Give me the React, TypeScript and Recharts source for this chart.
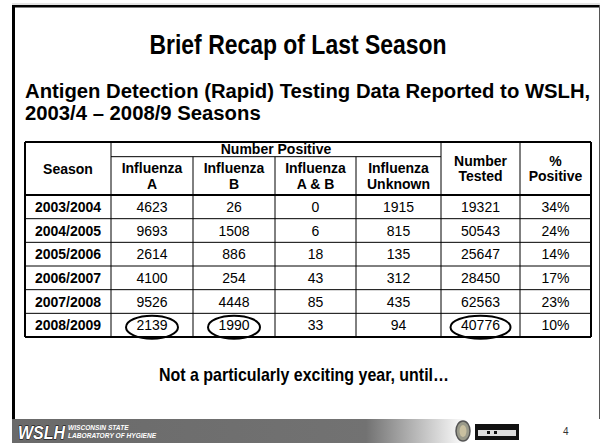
import React from "react";
import { ScatterChart, Scatter, XAxis, YAxis, ReferenceLine } from "recharts";

// table data (WSLH rapid antigen testing, 2003/4 - 2008/9)
const seasons = ["2003/2004", "2004/2005", "2005/2006", "2006/2007", "2007/2008", "2008/2009"];
const influenzaA = [4623, 9693, 2614, 4100, 9526, 2139];
const influenzaB = [26, 1508, 886, 254, 4448, 1990];
const influenzaAB = [0, 6, 18, 43, 85, 33];
const influenzaUnknown = [1915, 815, 135, 312, 435, 94];
const numberTested = [19321, 50543, 25647, 28450, 62563, 40776];
const percentPositive = [34, 24, 14, 17, 23, 10];

const columnHeaders = [
  ["Season"],
  ["Influenza", "A"],
  ["Influenza", "B"],
  ["Influenza", "A & B"],
  ["Influenza", "Unknown"],
  ["Number", "Tested"],
  ["%", "Positive"],
];
const groupHeader = "Number Positive";
// cells circled on the slide: [column index, season]
const circled = [
  [1, "2008/2009"],
  [2, "2008/2009"],
  [5, "2008/2009"],
];

// layout
const W = 602;
const H = 445;
const COL_WIDTHS = [86, 82, 82, 81, 85, 79, 71];
const HEADER_H = 2.24; // header height in data-row units
const GROUP_H = 0.62; // "Number Positive" band
const FONT = "'Liberation Sans', Arial, Helvetica, sans-serif";

const edges = COL_WIDTHS.reduce((acc, w) => [...acc, acc[acc.length - 1] + w], [0]);
const TABLE_W = edges[edges.length - 1];
const center = (i: number) => (edges[i] + edges[i + 1]) / 2;

const columnValues: string[][] = [
  seasons,
  influenzaA.map(String),
  influenzaB.map(String),
  influenzaAB.map(String),
  influenzaUnknown.map(String),
  numberTested.map(String),
  percentPositive.map((v) => `${v}%`),
];

const cellData = columnValues.map((vals, c) =>
  vals.map((label, r) => ({
    x: center(c),
    y: r + 0.5,
    label,
    bold: c === 0,
    circled: circled.some(([ci, s]) => ci === c && s === seasons[r]),
  }))
);

const headerData = [
  ...columnHeaders.map((lines, c) => ({
    x: center(c),
    y: c >= 1 && c <= 4 ? -(HEADER_H - GROUP_H) / 2 : -HEADER_H / 2,
    lines,
  })),
  { x: (edges[1] + edges[5]) / 2, y: -HEADER_H + GROUP_H / 2, lines: [groupHeader] },
];

const CellText = (props: any) => {
  const { cx, cy, payload } = props;
  const rx = payload.label.length * 4 + 10;
  return (
    <g>
      {payload.circled && (
        <ellipse cx={cx} cy={cy + 2} rx={rx} ry={11.5} fill="none" stroke="#000" strokeWidth={2} />
      )}
      <text
        x={cx}
        y={cy}
        textAnchor="middle"
        dominantBaseline="central"
        fontFamily={FONT}
        fontSize={14}
        fontWeight={payload.bold ? "bold" : "normal"}
        fill="#000"
      >
        {payload.label}
      </text>
    </g>
  );
};

const HeaderText = (props: any) => {
  const { cx, cy, payload } = props;
  const n = payload.lines.length;
  return (
    <text textAnchor="middle" fontFamily={FONT} fontSize={14} fontWeight="bold" fill="#000">
      {payload.lines.map((l: string, i: number) => (
        <tspan key={i} x={cx} y={cy + (i - (n - 1) / 2) * 15.5} dominantBaseline="central">
          {l}
        </tspan>
      ))}
    </text>
  );
};

function SlideFrame() {
  return (
    <svg width={W} height={H} style={{ position: "absolute", left: 0, top: 0 }}>
      <defs>
        <linearGradient id="foot" x1="0" x2="1" y1="0" y2="0">
          <stop offset="0" stopColor="#6a6a6a" />
          <stop offset="0.6" stopColor="#727272" />
          <stop offset="0.77" stopColor="#ffffff" />
          <stop offset="1" stopColor="#ffffff" />
        </linearGradient>
      </defs>
      <line x1={12} y1={4} x2={600} y2={4} stroke="#c8c8c8" />
      <rect x={12} y={5} width={588} height={2.5} fill="#000" />
      <rect x={12} y={5} width={3} height={415} fill="#000" />
      <rect x={599} y={5} width={1} height={415} fill="#555" />
      <rect x={12} y={419} width={590} height={24} fill="url(#foot)" />

      <text
        x={298}
        y={54}
        textAnchor="middle"
        fontFamily={FONT}
        fontWeight="bold"
        fontSize={28}
        textLength={297}
        lengthAdjust="spacingAndGlyphs"
      >
        Brief Recap of Last Season
      </text>
      <text x={25} y={98} fontFamily={FONT} fontWeight="bold" fontSize={20.3}>
        Antigen Detection (Rapid) Testing Data Reported to WSLH,
      </text>
      <text x={25} y={120} fontFamily={FONT} fontWeight="bold" fontSize={20.3}>
        2003/4 – 2008/9 Seasons
      </text>
      <text
        x={304}
        y={381}
        textAnchor="middle"
        fontFamily={FONT}
        fontWeight="bold"
        fontSize={19}
        textLength={290}
        lengthAdjust="spacingAndGlyphs"
      >
        Not a particularly exciting year, until…
      </text>

      {/* footer logos */}
      <text
        x={18}
        y={439}
        fontFamily={FONT}
        fontWeight="bold"
        fontStyle="italic"
        fontSize={19}
        fill="#fff"
        stroke="#000"
        strokeWidth={1}
        paintOrder="stroke"
        textLength={47}
        lengthAdjust="spacingAndGlyphs"
      >
        WSLH
      </text>
      <text x={68} y={430} fontFamily={FONT} fontWeight="bold" fontStyle="italic" fontSize={6.6} fill="#fff">
        WISCONSIN STATE
      </text>
      <text x={68} y={438} fontFamily={FONT} fontWeight="bold" fontStyle="italic" fontSize={6.6} fill="#fff">
        LABORATORY OF HYGIENE
      </text>
      <ellipse cx={463} cy={431} rx={7} ry={10} fill="#9a9a8a" stroke="#555" strokeWidth={1.5} />
      <ellipse cx={463} cy={431} rx={3.5} ry={6} fill="#c9c0a0" />
      <rect x={475} y={424} width={44} height={16} fill="#111" />
      <rect x={478} y={430} width={38} height={6} fill="#ddd" />
      <rect x={487} y={431} width={3} height={3} fill="#111" />
      <rect x={494} y={431} width={3} height={3} fill="#111" />
      <text x={563} y={435} fontFamily={FONT} fontSize={10} fill="#333">
        4
      </text>
    </svg>
  );
}

export default function App() {
  const lineProps = { stroke: "#000", ifOverflow: "visible" as const };
  const top = -HEADER_H;
  const bottom = seasons.length;
  return (
    <div style={{ position: "absolute", left: 0, top: 0, width: W, height: H, background: "#fff", overflow: "hidden" }}>
      <SlideFrame />
      <div style={{ position: "absolute", left: 0, top: 0 }}>
        <ScatterChart width={W} height={H} margin={{ top: 142, right: 11, bottom: 108, left: 25 }}>
          <XAxis type="number" dataKey="x" domain={[0, TABLE_W]} hide />
          <YAxis type="number" dataKey="y" domain={[top, bottom]} reversed hide />

          {/* vertical rules */}
          {edges.slice(1, -1).map((e, i) => {
            const partial = i + 1 >= 2 && i + 1 <= 4;
            return (
              <ReferenceLine
                key={`v${i}`}
                {...lineProps}
                strokeWidth={1}
                segment={[
                  { x: e, y: partial ? top + GROUP_H : top },
                  { x: e, y: bottom },
                ]}
              />
            );
          })}
          {/* horizontal rules */}
          <ReferenceLine
            {...lineProps}
            strokeWidth={1}
            segment={[
              { x: edges[1], y: top + GROUP_H },
              { x: edges[5], y: top + GROUP_H },
            ]}
          />
          {seasons.slice(0, -1).map((_, r) => (
            <ReferenceLine
              key={`h${r}`}
              {...lineProps}
              strokeWidth={1}
              segment={[
                { x: 0, y: r + 1 },
                { x: TABLE_W, y: r + 1 },
              ]}
            />
          ))}
          <ReferenceLine {...lineProps} strokeWidth={2.2} segment={[{ x: 0, y: 0 }, { x: TABLE_W, y: 0 }]} />
          {/* outer border */}
          <ReferenceLine {...lineProps} strokeWidth={2} segment={[{ x: 0, y: top }, { x: TABLE_W, y: top }]} />
          <ReferenceLine {...lineProps} strokeWidth={2} segment={[{ x: 0, y: bottom }, { x: TABLE_W, y: bottom }]} />
          <ReferenceLine {...lineProps} strokeWidth={2} segment={[{ x: 0, y: top }, { x: 0, y: bottom }]} />
          <ReferenceLine {...lineProps} strokeWidth={2} segment={[{ x: TABLE_W, y: top }, { x: TABLE_W, y: bottom }]} />

          <Scatter data={headerData} shape={HeaderText} isAnimationActive={false} />
          {cellData.map((d, c) => (
            <Scatter key={c} data={d} shape={CellText} isAnimationActive={false} />
          ))}
        </ScatterChart>
      </div>
    </div>
  );
}
